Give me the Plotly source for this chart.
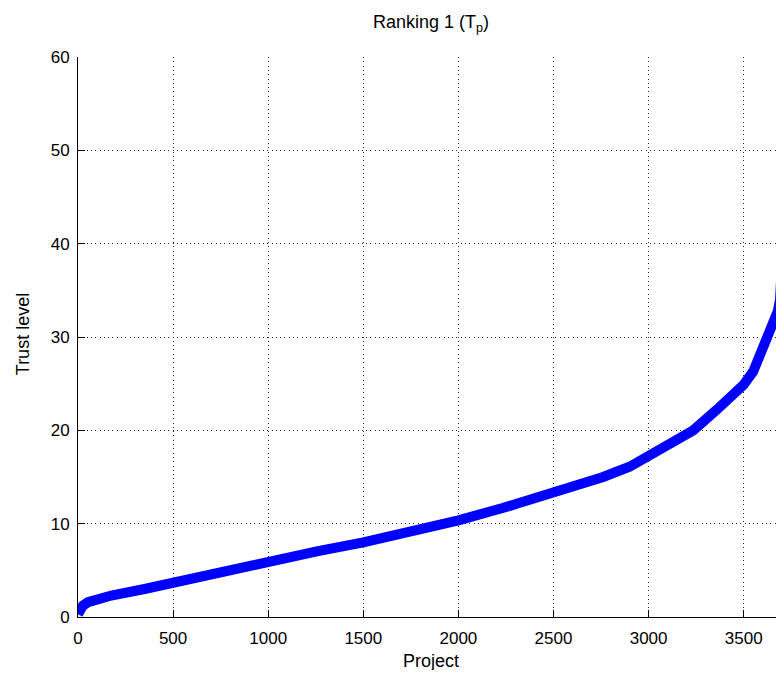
import plotly.graph_objects as go

project = [0, 10, 25, 53, 100, 175, 350, 500, 754, 1000, 1262, 1500, 1700,
           1886, 2000, 2237, 2500, 2761, 2900, 3000, 3100, 3235, 3358, 3420,
           3500, 3550, 3585, 3620, 3656, 3680, 3691, 3700, 3706, 3710, 3716]
trust = [0.3, 0.8, 1.2, 1.6, 1.95, 2.3, 3.0, 3.7, 4.8, 5.9, 7.05, 8.0, 8.85,
         9.7, 10.35, 11.7, 13.3, 15.0, 16.1, 17.2, 18.3, 20.0, 22.2, 23.3,
         24.9, 26.3, 27.9, 29.5, 31.1, 32.8, 34.0, 36.0, 38.5, 41.0, 45.0]

title_text = "Ranking 1 (T<sub>p</sub>)"
x_label = "Project"
y_label = "Trust level"
x_ticks = [0, 500, 1000, 1500, 2000, 2500, 3000, 3500]
y_ticks = [0, 10, 20, 30, 40, 50, 60]

FONT = "Liberation Sans, Arial, sans-serif"

fig = go.Figure()
fig.add_trace(go.Scatter(
    x=project, y=trust, mode="lines",
    line=dict(color="#0000ff", width=10),
    showlegend=False,
))

fig.update_layout(
    width=776, height=662,
    margin=dict(l=70, r=0, t=49, b=53),
    paper_bgcolor="white", plot_bgcolor="white",
    font=dict(family=FONT, size=17, color="black"),
    annotations=[
        dict(text=title_text, xref="paper", yref="paper", x=0.5, y=1,
             yshift=34, xanchor="center", yanchor="middle", showarrow=False,
             font=dict(family=FONT, size=18, color="black")),
        dict(text=x_label, xref="paper", yref="paper", x=0.5, y=0,
             yshift=-44, xanchor="center", yanchor="middle", showarrow=False,
             font=dict(family=FONT, size=18, color="black")),
        dict(text=y_label, xref="paper", yref="paper", x=0, y=0.505,
             xshift=-55, xanchor="center", yanchor="middle", showarrow=False,
             textangle=-90, font=dict(family=FONT, size=18, color="black")),
    ],
)
fig.update_xaxes(
    range=[0, 3712], tickvals=x_ticks, ticktext=[str(v) for v in x_ticks],
    showline=True, linecolor="black", linewidth=1,
    ticks="inside", ticklen=7, tickcolor="black", ticklabelstandoff=6,
    showgrid=True, gridcolor="#222222", griddash="1px,3.3px", gridwidth=1,
    zeroline=False, mirror=False,
)
fig.update_yaxes(
    range=[0, 60], tickvals=y_ticks, ticktext=[str(v) for v in y_ticks],
    showline=True, linecolor="black", linewidth=1,
    ticks="inside", ticklen=7, tickcolor="black", ticklabelstandoff=4,
    showgrid=True, gridcolor="#222222", griddash="1px,3.3px", gridwidth=1,
    zeroline=False, mirror=False,
)

fig.write_html("out.html")
